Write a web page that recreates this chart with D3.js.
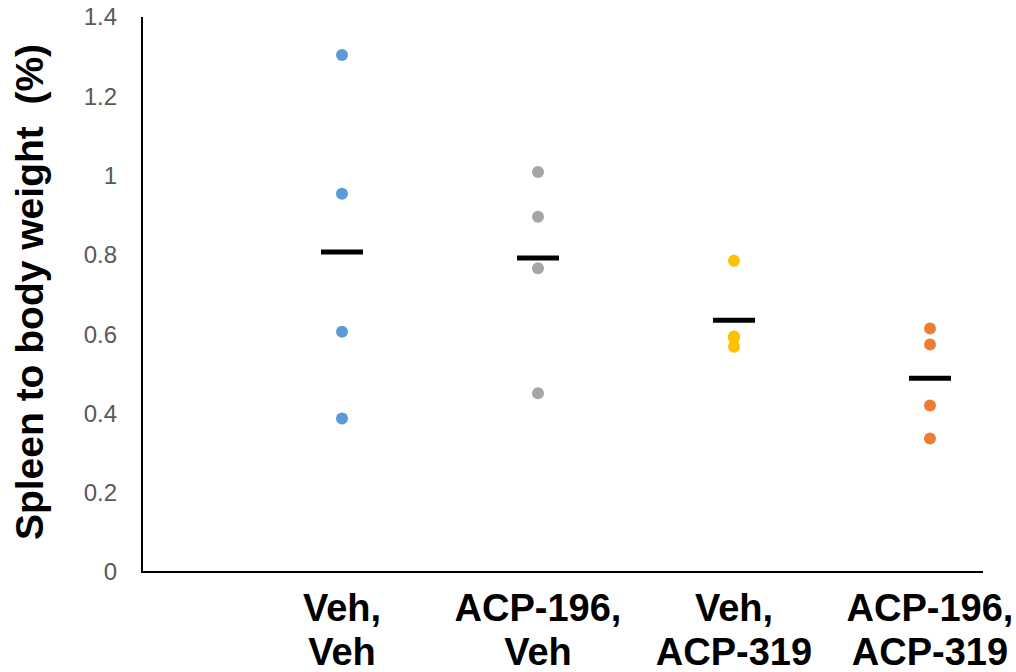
<!DOCTYPE html>
<html>
<head>
<meta charset="utf-8">
<script src="https://cdn.jsdelivr.net/npm/d3@7"></script>
<style>
  html,body{margin:0;padding:0;background:#fff;}
  svg{display:block;}
  .tick-lbl{font-family:"Liberation Sans",Arial,sans-serif;font-size:24px;fill:#595959;}
  .cat-lbl{font-family:"Liberation Sans",Arial,sans-serif;font-size:38px;font-weight:bold;fill:#000;}
  .y-title{font-family:"Liberation Sans",Arial,sans-serif;font-size:39px;font-weight:bold;fill:#000;white-space:pre;}
</style>
</head>
<body>
<svg id="chart" width="1016" height="672"></svg>
<script>
// groups, one line per label row
const groups   = ['Veh,Veh','ACP-196,Veh','Veh,ACP-319','ACP-196,ACP-319'];
const catLines = [['Veh,','Veh'],['ACP-196,','Veh'],['Veh,','ACP-319'],['ACP-196,','ACP-319']];
const colors   = ['#5b9bd5','#a5a5a5','#ffc000','#ed7d31'];

// individual animals
const vehVeh     = [1.304,0.954,0.606,0.387];
const acpVeh     = [1.009,0.896,0.766,0.451];
const vehAcp319  = [0.785,0.594,0.590,0.568];
const acpAcp319  = [0.614,0.574,0.420,0.337];
const points     = [vehVeh,acpVeh,vehAcp319,acpAcp319];

// group means (black bars)
const means = [0.807,0.792,0.635,0.489];

const yTicks = [0,0.2,0.4,0.6,0.8,1,1.2,1.4];

const W=1016, H=672;
const plot = {left:142, right:983, top:17, bottom:572};
const svg = d3.select('#chart');

const y = d3.scaleLinear().domain([0,1.4]).range([plot.bottom,plot.top]);
const x = d3.scalePoint().domain(groups).range([plot.left+200, plot.left+200+196*3]);

// axes lines
svg.append('line').attr('x1',plot.left).attr('x2',plot.left)
  .attr('y1',plot.top).attr('y2',plot.bottom+1)
  .attr('stroke','#000').attr('stroke-width',2);
svg.append('line').attr('x1',plot.left-1).attr('x2',plot.right)
  .attr('y1',plot.bottom).attr('y2',plot.bottom)
  .attr('stroke','#000').attr('stroke-width',2);

// y tick labels
svg.append('g').selectAll('text').data(yTicks).join('text')
  .attr('class','tick-lbl')
  .attr('x',plot.left-25).attr('y',d=>y(d))
  .attr('dy','0.35em').attr('text-anchor','end')
  .text(d=>d3.format('~g')(d));

// y title (double space before the unit, as in the original)
svg.append('text').attr('class','y-title')
  .attr('transform',`translate(43,292) rotate(-90)`)
  .attr('text-anchor','middle')
  .text('Spleen to body weight  (%)');

// category labels
const cl = svg.append('g').selectAll('text').data(groups).join('text')
  .attr('class','cat-lbl').attr('text-anchor','middle')
  .attr('x',d=>x(d)).attr('y',621);
cl.each(function(d,i){
  const t=d3.select(this);
  catLines[i].forEach((s,j)=>{
    t.append('tspan').attr('x',x(d)).attr('y',621+j*44).text(s);
  });
});

// dots
groups.forEach((g,i)=>{
  svg.append('g').selectAll('circle').data(points[i]).join('circle')
    .attr('cx',x(g)).attr('cy',d=>y(d)).attr('r',6)
    .attr('fill',colors[i]);
});

// mean bars
svg.append('g').selectAll('line').data(means).join('line')
  .attr('x1',(d,i)=>x(groups[i])-21).attr('x2',(d,i)=>x(groups[i])+21)
  .attr('y1',d=>y(d)).attr('y2',d=>y(d))
  .attr('stroke','#000').attr('stroke-width',5);
</script>
</body>
</html>
